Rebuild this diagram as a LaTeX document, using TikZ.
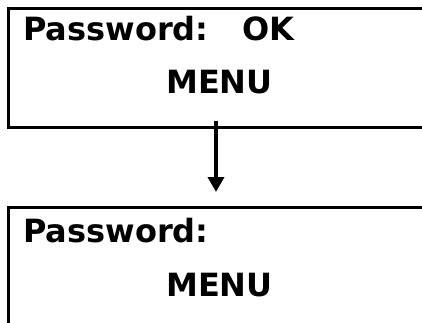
\documentclass[tikz,border=0pt]{standalone}
\usepackage{fontspec}
\setmainfont{DejaVu Sans}
\usepackage{tikz}
\usetikzlibrary{arrows.meta}

\begin{document}
\begin{tikzpicture}[x=1pt,y=-1pt,
    screen/.style={line width=3pt,draw=black},
    lcd/.style={anchor=base west,inner sep=0pt,font=\fontsize{32}{38}\selectfont\bfseries},
    flow/.style={line width=3.5pt,-{Triangle[width=16pt,length=15pt]}}]
        \useasboundingbox (0,0) rectangle (422,322);
        \clip (0,0) rectangle (422,322);

        %%% COORDINATES %%%
        \coordinate (top) at (216,121);
        \coordinate (bot) at (216,192);

        %%% SCREENS %%%
        \draw[screen] (440,8) -- (8,8) -- (8,127) -- (440,127);
        \draw[screen] (440,207) -- (8,207) -- (8,340);

        %%% TEXTS %%%
        \node[lcd] (pw1) at (23,40) {Password:};
        \node[lcd] (ok) at (242,40) {OK};
        \node[lcd] (menu1) at (166,93) {MENU};
        \node[lcd] (pw2) at (23,242) {Password:};
        \node[lcd] (menu2) at (166,296) {MENU};

        %%% ARROW %%%
        \draw[flow] (top) -- (bot);
    \end{tikzpicture}
\end{document}
